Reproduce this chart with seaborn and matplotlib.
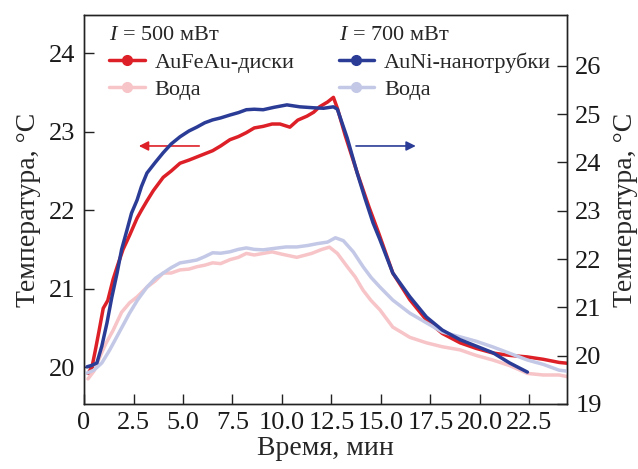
import matplotlib
matplotlib.use("Agg")
import matplotlib.pyplot as plt
from matplotlib.lines import Line2D
import seaborn as sns

# AuFeAu discs, I = 500 mW (left axis)
t_aufeau = [0.2, 0.4, 0.56, 0.75, 0.97, 1.2, 1.47, 1.7, 1.97, 2.3, 2.68, 2.9, 3.18, 3.5, 4.0, 4.4,
            4.85, 5.3, 5.7, 6.1, 6.5, 6.9, 7.37, 7.8, 8.2, 8.6, 9.05, 9.5, 9.9, 10.4, 10.8, 11.26,
            11.6, 11.9, 12.3, 12.6, 12.8, 13.2, 13.8, 14.4, 14.9, 15.6, 16.46, 17.3, 18.1, 19.0,
            19.8, 20.66, 21.5, 22.4, 23.2, 24.0, 24.4]
T_aufeau = [19.92, 20.0, 20.2, 20.45, 20.75, 20.85, 21.12, 21.3, 21.5, 21.68, 21.9, 22.0, 22.12, 22.25, 22.42, 22.5,
            22.6, 22.64, 22.68, 22.72, 22.76, 22.82, 22.9, 22.94, 22.99, 23.05, 23.07, 23.1, 23.1, 23.06, 23.15, 23.2,
            23.25, 23.32, 23.38, 23.44, 23.3, 22.95, 22.48, 22.04, 21.7, 21.2, 20.86, 20.6, 20.43, 20.31,
            20.24, 20.18, 20.15, 20.13, 20.1, 20.06, 20.05]

# water, I = 500 mW (left axis)
t_water1 = [0.2, 0.5, 0.8, 1.1, 1.47, 1.9, 2.3, 2.7, 3.18, 3.6, 4.0, 4.4, 4.85, 5.3, 5.7, 6.1, 6.5, 6.9,
            7.37, 7.8, 8.2, 8.6, 9.05, 9.5, 10.0, 10.75, 11.5, 12.0, 12.4, 12.8, 13.3, 13.7, 14.1, 14.5,
            14.95, 15.6, 16.0, 16.46, 17.3, 18.1, 19.0, 19.8, 20.66, 21.5, 22.4, 23.2, 24.0, 24.4]
T_water1 = [19.85, 19.95, 20.13, 20.3, 20.47, 20.7, 20.82, 20.9, 21.02, 21.1, 21.2, 21.2, 21.24, 21.25, 21.28, 21.3, 21.33, 21.32,
            21.37, 21.4, 21.45, 21.43, 21.45, 21.47, 21.44, 21.4, 21.45, 21.5, 21.53, 21.45, 21.28, 21.15, 20.98, 20.85,
            20.73, 20.51, 20.45, 20.38, 20.31, 20.26, 20.22, 20.15, 20.09, 20.02, 19.92, 19.9, 19.9, 19.88]

# AuNi nanotubes, I = 700 mW (right axis)
t_auni = [0.15, 0.4, 0.65, 0.9, 1.16, 1.4, 1.67, 1.9, 2.17, 2.4, 2.68, 2.9, 3.18, 3.6, 4.0, 4.4, 4.85, 5.3,
          5.7, 6.1, 6.5, 6.9, 7.37, 7.8, 8.2, 8.6, 9.05, 9.6, 10.25, 10.9, 11.6, 12.1, 12.6, 12.8, 13.3,
          13.8, 14.2, 14.6, 14.95, 15.6, 16.46, 17.3, 18.1, 19.0, 19.8, 20.66, 21.5, 22.4]
T_auni = [19.77, 19.8, 19.85, 20.2, 20.68, 21.2, 21.71, 22.2, 22.6, 22.95, 23.22, 23.5, 23.78, 24.0, 24.2, 24.38, 24.53, 24.65,
          24.73, 24.82, 24.88, 24.92, 24.98, 25.03, 25.09, 25.1, 25.09, 25.14, 25.19, 25.15, 25.13, 25.12, 25.15, 25.1, 24.5,
          23.78, 23.25, 22.75, 22.4, 21.71, 21.22, 20.8, 20.53, 20.33, 20.2, 20.06, 19.85, 19.66]

# water, I = 700 mW (right axis)
t_water2 = [0.15, 0.5, 0.9, 1.3, 1.8, 2.3, 2.7, 3.18, 3.6, 4.0, 4.4, 4.85, 5.3, 5.7, 6.1, 6.5, 6.9, 7.37,
            7.8, 8.2, 8.6, 9.05, 9.6, 10.2, 10.75, 11.3, 11.8, 12.3, 12.7, 13.1, 13.6, 14.1, 14.5, 14.95,
            15.6, 16.46, 17.3, 18.1, 19.0, 19.8, 20.66, 21.5, 22.4, 23.2, 24.0, 24.4]
T_water2 = [19.64, 19.7, 19.85, 20.12, 20.5, 20.88, 21.15, 21.42, 21.6, 21.71, 21.82, 21.92, 21.95, 21.98, 22.05, 22.13, 22.12, 22.15,
            22.2, 22.23, 22.2, 22.19, 22.22, 22.25, 22.25, 22.28, 22.32, 22.35, 22.44, 22.38, 22.15, 21.84, 21.62, 21.42,
            21.15, 20.88, 20.68, 20.49, 20.39, 20.3, 20.18, 20.05, 19.91, 19.82, 19.7, 19.68]

x_ticks = [0, 2.5, 5.0, 7.5, 10.0, 12.5, 15.0, 17.5, 20.0, 22.5]
x_ticklabels = ["0", "2.5", "5.0", "7.5", "10.0", "12.5", "15.0", "17.5", "20.0", "22.5"]

c_red = "#dd2027"
c_pink = "#f7c4c8"
c_blue = "#2b3c97"
c_lav = "#c3c8e6"

sns.set_style("ticks")
plt.rcParams["font.family"] = ["Liberation Serif", "DejaVu Serif"]
plt.rcParams["mathtext.fontset"] = "custom"
plt.rcParams["mathtext.it"] = "Liberation Serif:italic"
plt.rcParams["mathtext.rm"] = "Liberation Serif"
plt.rcParams["xtick.direction"] = "in"
plt.rcParams["ytick.direction"] = "in"

fig = plt.figure(figsize=(6.38, 4.69), dpi=100)
ax = fig.add_axes([0.1317, 0.1386, 0.757, 0.8294])
ax2 = ax.twinx()

lw = 2.5
sns.lineplot(x=t_water1, y=T_water1, ax=ax, color=c_pink, lw=lw, sort=False, estimator=None)
sns.lineplot(x=t_aufeau, y=T_aufeau, ax=ax, color=c_red, lw=lw, sort=False, estimator=None)
sns.lineplot(x=t_water2, y=T_water2, ax=ax2, color=c_lav, lw=lw, sort=False, estimator=None)
sns.lineplot(x=t_auni, y=T_auni, ax=ax2, color=c_blue, lw=lw, sort=False, estimator=None)

ax.set_xlim(0, 24.4)
ax.set_ylim(19.53, 24.49)
ax2.set_ylim(19, 27.05)
ax.set_xticks(x_ticks)
ax.set_xticklabels(x_ticklabels)
ax.set_yticks([20, 21, 22, 23, 24])
ax2.set_yticks([19, 20, 21, 22, 23, 24, 25, 26])

for a in (ax, ax2):
    for s in a.spines.values():
        s.set_visible(True)
        s.set_color("#222222")
        s.set_linewidth(1.0)
    a.tick_params(labelsize=19, length=7, width=1.0, colors="#222222", labelcolor="#1a1a1a")
ax.tick_params(axis="x", pad=6)
ax.tick_params(axis="y", pad=6)
ax2.tick_params(axis="y", pad=6)

ax.set_xlabel("Время, мин", fontsize=20, labelpad=1)
ax.set_ylabel("Температура, °C", fontsize=20, labelpad=6)
ax2.set_ylabel("Температура, °C", fontsize=20, labelpad=8)

# direction arrows
ax.annotate("", xy=(2.63, 22.82), xytext=(5.96, 22.82),
            arrowprops=dict(arrowstyle="-|>", color=c_red, lw=1.2, mutation_scale=14))
ax.annotate("", xy=(16.9, 22.82), xytext=(13.6, 22.82),
            arrowprops=dict(arrowstyle="-|>", color=c_blue, lw=1.2, mutation_scale=14))

def handle(c):
    return Line2D([], [], color=c, lw=2.5, marker="o", markersize=7)

leg1 = ax2.legend([handle(c_red), handle(c_pink)], ["AuFeAu-диски", "Вода"],
                  title=r"$I$ = 500 мВт", loc="upper left", bbox_to_anchor=(0.02, 1.012),
                  frameon=False, fontsize=16, title_fontsize=16, alignment="left",
                  handlelength=1.6, handletextpad=0.45, labelspacing=0.32, borderaxespad=0.3)
ax2.add_artist(leg1)
ax2.legend([handle(c_blue), handle(c_lav)], ["AuNi-нанотрубки", "Вода"],
           title=r"$I$ = 700 мВт", loc="upper left", bbox_to_anchor=(0.495, 1.012),
           frameon=False, fontsize=16, title_fontsize=16, alignment="left",
           handlelength=1.6, handletextpad=0.45, labelspacing=0.32, borderaxespad=0.3)

fig.savefig("out.png", dpi=100)
